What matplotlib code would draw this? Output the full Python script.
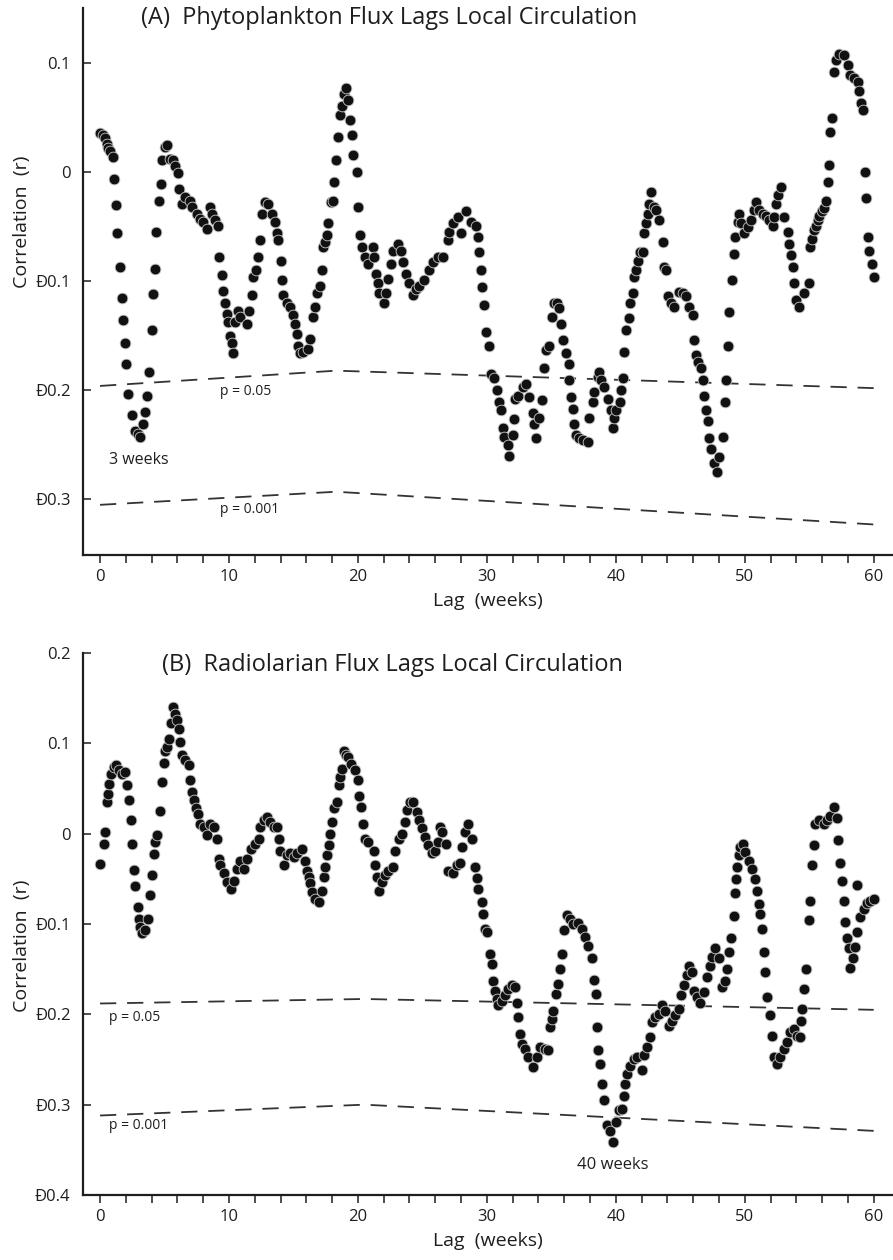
import numpy as np
import matplotlib
matplotlib.use("Agg")
import matplotlib.pyplot as plt
from matplotlib.ticker import MultipleLocator

plt.rcParams['font.family'] = ['Open Sans', 'DejaVu Sans']

# ---- Panel A: phytoplankton flux vs local circulation (lag in weeks, r) ----
lag_a = [0.00, 0.21, 0.39, 0.57, 0.65, 0.78, 0.98, 1.09, 1.24, 1.34, 1.55, 1.68, 1.81, 1.94,
         2.02, 2.20, 2.45, 2.71, 2.97, 3.10, 3.36, 3.49, 3.62, 3.82, 4.00, 4.13, 4.26, 4.32,
         4.57, 4.73, 4.78, 5.04, 5.22, 5.43, 5.68, 5.81, 6.07, 6.15, 6.33, 6.59, 6.98, 7.11,
         7.49, 7.75, 8.01, 8.27, 8.53, 8.66, 8.91, 9.17, 9.25, 9.43, 9.56, 9.69, 9.82, 9.95,
         10.08, 10.21, 10.28, 10.47, 10.72, 10.85, 11.37, 11.58, 11.76, 11.89, 12.09, 12.27,
         12.40, 12.53, 12.79, 13.05, 13.31, 13.57, 13.70, 13.82, 14.01, 14.08, 14.21, 14.47,
         14.73, 14.99, 15.12, 15.25, 15.37, 15.50, 15.76, 16.15, 16.28, 16.54, 16.67, 16.80,
         17.05, 17.18, 17.31, 17.44, 17.57, 17.70, 17.88, 18.09, 18.14, 18.29, 18.48, 18.60,
         18.73, 18.91, 19.07, 19.25, 19.38, 19.51, 19.64, 19.90, 20.03, 20.16, 20.28, 20.54,
         20.76, 21.15, 21.28, 21.41, 21.54, 21.67, 22.05, 22.18, 22.31, 22.57, 22.70, 23.09,
         23.35, 23.48, 23.73, 23.99, 24.25, 24.51, 24.77, 25.16, 25.54, 25.80, 26.19, 26.58,
         26.96, 27.09, 27.35, 27.74, 28.00, 28.39, 28.77, 29.16, 29.29, 29.37, 29.55, 29.60,
         29.76, 29.94, 30.14, 30.32, 30.58, 30.76, 30.92, 31.10, 31.23, 31.36, 31.62, 31.74,
         32.00, 32.13, 32.21, 32.39, 32.78, 33.04, 33.30, 33.55, 33.68, 33.81, 34.07, 34.28,
         34.46, 34.59, 34.85, 35.05, 35.18, 35.41, 35.62, 35.75, 35.88, 36.14, 36.34, 36.40,
         36.53, 36.65, 36.78, 36.91, 37.17, 37.43, 37.82, 37.95, 38.20, 38.33, 38.59, 38.72,
         38.85, 39.11, 39.37, 39.63, 39.77, 39.90, 40.03, 40.29, 40.42, 40.54, 40.67, 40.80,
         41.06, 41.14, 41.32, 41.45, 41.58, 41.71, 41.84, 42.09, 42.22, 42.35, 42.48, 42.61,
         42.74, 43.00, 43.13, 43.39, 43.65, 43.77, 43.90, 44.03, 44.29, 44.55, 44.94, 45.20,
         45.45, 45.71, 45.97, 46.10, 46.23, 46.41, 46.62, 46.75, 46.84, 47.00, 47.13, 47.26,
         47.39, 47.65, 47.86, 48.04, 48.30, 48.48, 48.55, 48.68, 48.81, 48.99, 49.15, 49.25,
         49.46, 49.59, 49.72, 49.98, 50.23, 50.49, 50.75, 50.88, 51.14, 51.40, 51.66, 51.91,
         52.17, 52.30, 52.43, 52.56, 52.82, 53.08, 53.33, 53.46, 53.59, 53.72, 53.85, 53.98,
         54.24, 54.63, 55.01, 55.09, 55.22, 55.35, 55.53, 55.66, 55.79, 55.97, 56.18, 56.31,
         56.44, 56.56, 56.64, 56.75, 56.90, 57.08, 57.34, 57.73, 57.99, 58.19, 58.45, 58.76,
         58.89, 59.02, 59.20, 59.33, 59.41, 59.54, 59.67, 59.85, 60.00]
r_a = [0.036, 0.034, 0.031, 0.026, 0.022, 0.019, 0.014, -0.006, -0.030, -0.056, -0.087, -0.115,
       -0.136, -0.157, -0.176, -0.203, -0.223, -0.237, -0.240, -0.243, -0.231, -0.220, -0.205,
       -0.183, -0.145, -0.112, -0.089, -0.055, -0.026, -0.011, 0.011, 0.023, 0.025, 0.012,
       0.011, 0.006, -0.001, -0.015, -0.029, -0.023, -0.026, -0.032, -0.038, -0.043, -0.046,
       -0.052, -0.032, -0.038, -0.044, -0.049, -0.078, -0.094, -0.109, -0.120, -0.130, -0.137,
       -0.150, -0.157, -0.166, -0.137, -0.127, -0.133, -0.139, -0.127, -0.113, -0.096, -0.090,
       -0.078, -0.062, -0.038, -0.027, -0.029, -0.038, -0.046, -0.056, -0.062, -0.081, -0.099,
       -0.113, -0.120, -0.124, -0.131, -0.139, -0.148, -0.159, -0.166, -0.165, -0.162, -0.153,
       -0.133, -0.124, -0.111, -0.104, -0.090, -0.069, -0.064, -0.058, -0.047, -0.027, -0.026,
       -0.009, 0.011, 0.032, 0.052, 0.061, 0.072, 0.077, 0.066, 0.048, 0.034, 0.016, 0.000,
       -0.032, -0.058, -0.069, -0.078, -0.084, -0.069, -0.078, -0.093, -0.102, -0.111, -0.120,
       -0.111, -0.098, -0.084, -0.072, -0.066, -0.072, -0.082, -0.093, -0.102, -0.113, -0.107,
       -0.104, -0.099, -0.090, -0.082, -0.078, -0.078, -0.062, -0.055, -0.047, -0.041, -0.056,
       -0.036, -0.046, -0.049, -0.059, -0.073, -0.090, -0.105, -0.122, -0.147, -0.159, -0.185,
       -0.189, -0.200, -0.211, -0.218, -0.235, -0.243, -0.250, -0.260, -0.241, -0.226, -0.208,
       -0.205, -0.197, -0.194, -0.206, -0.221, -0.231, -0.244, -0.225, -0.209, -0.180, -0.163,
       -0.159, -0.133, -0.120, -0.120, -0.125, -0.139, -0.154, -0.166, -0.176, -0.191, -0.206,
       -0.217, -0.231, -0.241, -0.244, -0.246, -0.247, -0.225, -0.211, -0.202, -0.188, -0.183,
       -0.191, -0.197, -0.208, -0.218, -0.235, -0.225, -0.218, -0.211, -0.200, -0.189, -0.165,
       -0.145, -0.134, -0.120, -0.111, -0.096, -0.090, -0.081, -0.073, -0.073, -0.056, -0.047,
       -0.038, -0.029, -0.018, -0.032, -0.035, -0.044, -0.064, -0.087, -0.090, -0.114, -0.120,
       -0.124, -0.110, -0.111, -0.114, -0.124, -0.131, -0.154, -0.168, -0.174, -0.180, -0.191,
       -0.205, -0.218, -0.228, -0.244, -0.254, -0.267, -0.275, -0.261, -0.243, -0.211, -0.191,
       -0.159, -0.128, -0.099, -0.075, -0.059, -0.046, -0.038, -0.047, -0.056, -0.050, -0.044,
       -0.035, -0.027, -0.035, -0.038, -0.040, -0.044, -0.049, -0.041, -0.029, -0.021, -0.014,
       -0.041, -0.055, -0.066, -0.076, -0.087, -0.102, -0.117, -0.124, -0.111, -0.102, -0.069,
       -0.061, -0.053, -0.049, -0.044, -0.040, -0.036, -0.033, -0.026, -0.009, 0.007, 0.037,
       0.050, 0.092, 0.103, 0.108, 0.107, 0.098, 0.089, 0.086, 0.083, 0.074, 0.063, 0.057,
       0.000, -0.024, -0.059, -0.072, -0.084, -0.096]

# ---- Panel B: radiolarian flux vs local circulation ----
lag_b = [0.03, 0.28, 0.41, 0.54, 0.62, 0.72, 0.88, 1.06, 1.24, 1.45, 1.71, 1.96, 2.09, 2.27,
         2.40, 2.48, 2.61, 2.74, 2.92, 3.00, 3.13, 3.26, 3.51, 3.72, 3.90, 4.03, 4.16, 4.29,
         4.42, 4.68, 4.81, 4.94, 5.06, 5.19, 5.32, 5.50, 5.63, 5.79, 5.97, 6.10, 6.23, 6.36,
         6.62, 6.87, 7.00, 7.13, 7.26, 7.44, 7.60, 7.78, 8.04, 8.30, 8.55, 8.81, 9.07, 9.20,
         9.33, 9.59, 9.85, 10.18, 10.36, 10.62, 10.88, 11.14, 11.40, 11.73, 11.99, 12.30,
         12.43, 12.69, 12.95, 13.20, 13.46, 13.72, 13.85, 13.98, 14.24, 14.50, 14.76, 15.01,
         15.27, 15.66, 15.92, 16.05, 16.18, 16.30, 16.43, 16.69, 16.95, 17.21, 17.34, 17.47,
         17.60, 17.73, 17.86, 17.98, 18.11, 18.37, 18.50, 18.63, 18.76, 18.89, 19.07, 19.25,
         19.50, 19.76, 20.00, 20.10, 20.25, 20.43, 20.56, 20.82, 21.21, 21.34, 21.47, 21.60,
         21.86, 22.11, 22.37, 22.76, 22.89, 23.15, 23.41, 23.66, 23.79, 24.05, 24.31, 24.57,
         24.70, 24.96, 25.21, 25.47, 25.73, 25.99, 26.25, 26.38, 26.50, 26.81, 27.02, 27.41,
         27.67, 27.93, 28.06, 28.32, 28.57, 28.83, 29.09, 29.22, 29.35, 29.61, 29.74, 29.87,
         30.00, 30.25, 30.38, 30.51, 30.64, 30.77, 30.90, 31.16, 31.42, 31.67, 31.93, 32.19,
         32.32, 32.45, 32.58, 32.76, 32.97, 33.23, 33.61, 33.87, 34.13, 34.52, 34.78, 34.90,
         35.03, 35.16, 35.34, 35.50, 35.68, 35.81, 36.02, 36.20, 36.46, 36.71, 37.10, 37.36,
         37.62, 37.88, 38.13, 38.34, 38.47, 38.57, 38.65, 38.78, 38.96, 39.09, 39.30, 39.56,
         39.81, 39.98, 40.24, 40.49, 40.62, 40.75, 40.88, 41.14, 41.40, 41.66, 42.04, 42.17,
         42.43, 42.69, 42.82, 43.08, 43.34, 43.59, 43.85, 44.11, 44.37, 44.63, 44.89, 45.02,
         45.27, 45.53, 45.66, 45.92, 46.05, 46.31, 46.57, 46.83, 47.08, 47.34, 47.47, 47.73,
         47.99, 48.25, 48.50, 48.63, 48.76, 48.94, 49.15, 49.28, 49.36, 49.41, 49.54, 49.67,
         49.87, 50.05, 50.31, 50.57, 50.83, 50.96, 51.09, 51.22, 51.35, 51.48, 51.61, 51.73,
         51.99, 52.12, 52.25, 52.51, 52.77, 53.03, 53.28, 53.54, 53.80, 54.06, 54.32, 54.37,
         54.45, 54.58, 54.78, 54.96, 55.09, 55.22, 55.35, 55.48, 55.74, 56.13, 56.39, 56.64,
         56.90, 57.16, 57.24, 57.37, 57.55, 57.68, 57.81, 57.94, 58.07, 58.19, 58.40, 58.58,
         58.71, 58.71, 58.97, 59.23, 59.49, 59.75, 60.00]
r_b = [-0.034, -0.011, 0.002, 0.035, 0.044, 0.055, 0.066, 0.074, 0.076, 0.070, 0.066, 0.068,
       0.054, 0.037, 0.015, -0.011, -0.040, -0.058, -0.081, -0.094, -0.103, -0.110, -0.107,
       -0.094, -0.068, -0.046, -0.023, -0.009, -0.002, 0.025, 0.057, 0.078, 0.091, 0.096,
       0.105, 0.122, 0.140, 0.133, 0.126, 0.116, 0.102, 0.087, 0.081, 0.076, 0.059, 0.046,
       0.037, 0.028, 0.022, 0.011, 0.007, -0.002, 0.011, 0.007, -0.006, -0.028, -0.035,
       -0.044, -0.054, -0.061, -0.052, -0.039, -0.030, -0.039, -0.028, -0.017, -0.011, -0.006,
       0.007, 0.015, 0.019, 0.013, 0.007, 0.007, -0.006, -0.019, -0.035, -0.024, -0.021,
       -0.026, -0.021, -0.017, -0.030, -0.041, -0.048, -0.055, -0.065, -0.072, -0.076, -0.063,
       -0.048, -0.037, -0.024, -0.013, 0.000, 0.013, 0.028, 0.035, 0.054, 0.063, 0.072, 0.092,
       0.087, 0.085, 0.077, 0.070, 0.059, 0.042, 0.030, 0.011, -0.006, -0.009, -0.019, -0.035,
       -0.048, -0.063, -0.054, -0.046, -0.041, -0.037, -0.019, -0.006, 0.000, 0.013, 0.026,
       0.035, 0.035, 0.024, 0.015, 0.006, -0.004, -0.013, -0.021, -0.019, -0.009, 0.007,
       0.002, -0.011, -0.041, -0.043, -0.035, -0.033, -0.015, 0.002, 0.011, -0.006, -0.037,
       -0.049, -0.061, -0.076, -0.089, -0.105, -0.109, -0.133, -0.144, -0.163, -0.174, -0.183,
       -0.190, -0.185, -0.179, -0.172, -0.168, -0.170, -0.188, -0.203, -0.222, -0.233, -0.238,
       -0.247, -0.258, -0.247, -0.236, -0.238, -0.240, -0.214, -0.205, -0.196, -0.177, -0.166,
       -0.150, -0.133, -0.107, -0.090, -0.094, -0.100, -0.099, -0.105, -0.114, -0.124, -0.138,
       -0.162, -0.177, -0.214, -0.240, -0.255, -0.277, -0.295, -0.323, -0.329, -0.341, -0.319,
       -0.306, -0.305, -0.290, -0.277, -0.266, -0.257, -0.249, -0.247, -0.262, -0.245, -0.236,
       -0.225, -0.209, -0.203, -0.200, -0.190, -0.196, -0.213, -0.207, -0.201, -0.194, -0.179,
       -0.168, -0.157, -0.146, -0.153, -0.174, -0.181, -0.188, -0.175, -0.159, -0.146, -0.137,
       -0.127, -0.138, -0.170, -0.163, -0.150, -0.131, -0.115, -0.091, -0.066, -0.050, -0.037,
       -0.024, -0.015, -0.011, -0.020, -0.030, -0.039, -0.050, -0.063, -0.078, -0.089, -0.105,
       -0.131, -0.153, -0.181, -0.201, -0.224, -0.247, -0.255, -0.247, -0.238, -0.231, -0.220,
       -0.216, -0.224, -0.225, -0.207, -0.194, -0.172, -0.150, -0.096, -0.074, -0.035, -0.013,
       0.011, 0.015, 0.011, 0.015, 0.020, 0.030, 0.017, -0.007, -0.033, -0.052, -0.074, -0.098,
       -0.116, -0.127, -0.149, -0.138, -0.126, -0.109, -0.057, -0.092, -0.083, -0.077, -0.074,
       -0.072]

# significance curves (lag, r) break points
sig_lag_a = [0, 18.3, 60]
p05_a = [-0.196, -0.182, -0.198]
p001_a = [-0.305, -0.293, -0.323]
sig_lag_b = [0, 20.5, 60]
p05_b = [-0.188, -0.183, -0.195]
p001_b = [-0.312, -0.300, -0.329]

W, H = 893, 1260
fig = plt.figure(figsize=(W / 100, H / 100), dpi=100)
INK = '#1e1e1e'


def make_axes(top_px, bottom_px):
    left = 83 / W
    return fig.add_axes([left, 1 - bottom_px / H, 1 - left, (bottom_px - top_px) / H])


def style(ax, ylim, yticks, ylabels, ylab_y):
    ax.set_xlim(-1.32, 61.5)
    ax.set_ylim(*ylim)
    for s in ['top', 'right']:
        ax.spines[s].set_visible(False)
    for s in ['left', 'bottom']:
        ax.spines[s].set_linewidth(1.6)
        ax.spines[s].set_color(INK)
    ax.xaxis.set_major_locator(MultipleLocator(10))
    ax.xaxis.set_minor_locator(MultipleLocator(2))
    ax.tick_params(axis='x', which='both', direction='out', length=6, width=1.1,
                   color=INK, labelsize=12, pad=4, labelcolor=INK)
    ax.set_yticks(yticks)
    ax.set_yticklabels(ylabels)
    ax.tick_params(axis='y', direction='in', length=6, width=1.1, color=INK,
                   labelsize=12, pad=9, labelcolor=INK)
    ax.set_xlabel('Lag  (weeks)', fontsize=14, color=INK, labelpad=5)
    ax.set_ylabel('Correlation  (r)', fontsize=14, color=INK)
    ax.yaxis.set_label_coords(-0.064, ylab_y)


dot = dict(s=60, facecolor='#111111', edgecolor='#c8c8c8', linewidths=0.6, zorder=3)
dash = dict(color='#333333', lw=1.3, dashes=(9, 6), zorder=2)

# Panel A
axA = make_axes(8, 555)
axA.plot(sig_lag_a, p05_a, **dash)
axA.plot(sig_lag_a, p001_a, **dash)
axA.scatter(lag_a, r_a, **dot)
style(axA, (-0.351, 0.1505), [0.1, 0, -0.1, -0.2, -0.3],
      ['0.1', '0', 'Ð0.1', 'Ð0.2', 'Ð0.3'], 0.61)
axA.text(9.3, -0.2015, 'p = 0.05', fontsize=10, va='center', color=INK)
axA.text(9.3, -0.309, 'p = 0.001', fontsize=10, va='center', color=INK)
axA.text(0.66, -0.264, '3 weeks', fontsize=11.5, va='center', color=INK)
axA.text(3.2, 0.141, '(A)  Phytoplankton Flux Lags Local Circulation', fontsize=17,
         va='center', color=INK)

# Panel B
axB = make_axes(653, 1195)
axB.plot(sig_lag_b, p05_b, **dash)
axB.plot(sig_lag_b, p001_b, **dash)
axB.scatter(lag_b, r_b, **dot)
style(axB, (-0.4, 0.2), [0.2, 0.1, 0, -0.1, -0.2, -0.3, -0.4],
      ['0.2', '0.1', '0', 'Ð0.1', 'Ð0.2', 'Ð0.3', 'Ð0.4'], 0.46)
axB.text(0.67, -0.203, 'p = 0.05', fontsize=10, va='center', color=INK)
axB.text(0.67, -0.323, 'p = 0.001', fontsize=10, va='center', color=INK)
axB.text(39.8, -0.3666, '40 weeks', fontsize=12, va='center', ha='center', color=INK)
axB.text(4.8, 0.187, '(B)  Radiolarian Flux Lags Local Circulation', fontsize=17,
         va='center', color=INK)

fig.savefig('out.png', dpi=100)
